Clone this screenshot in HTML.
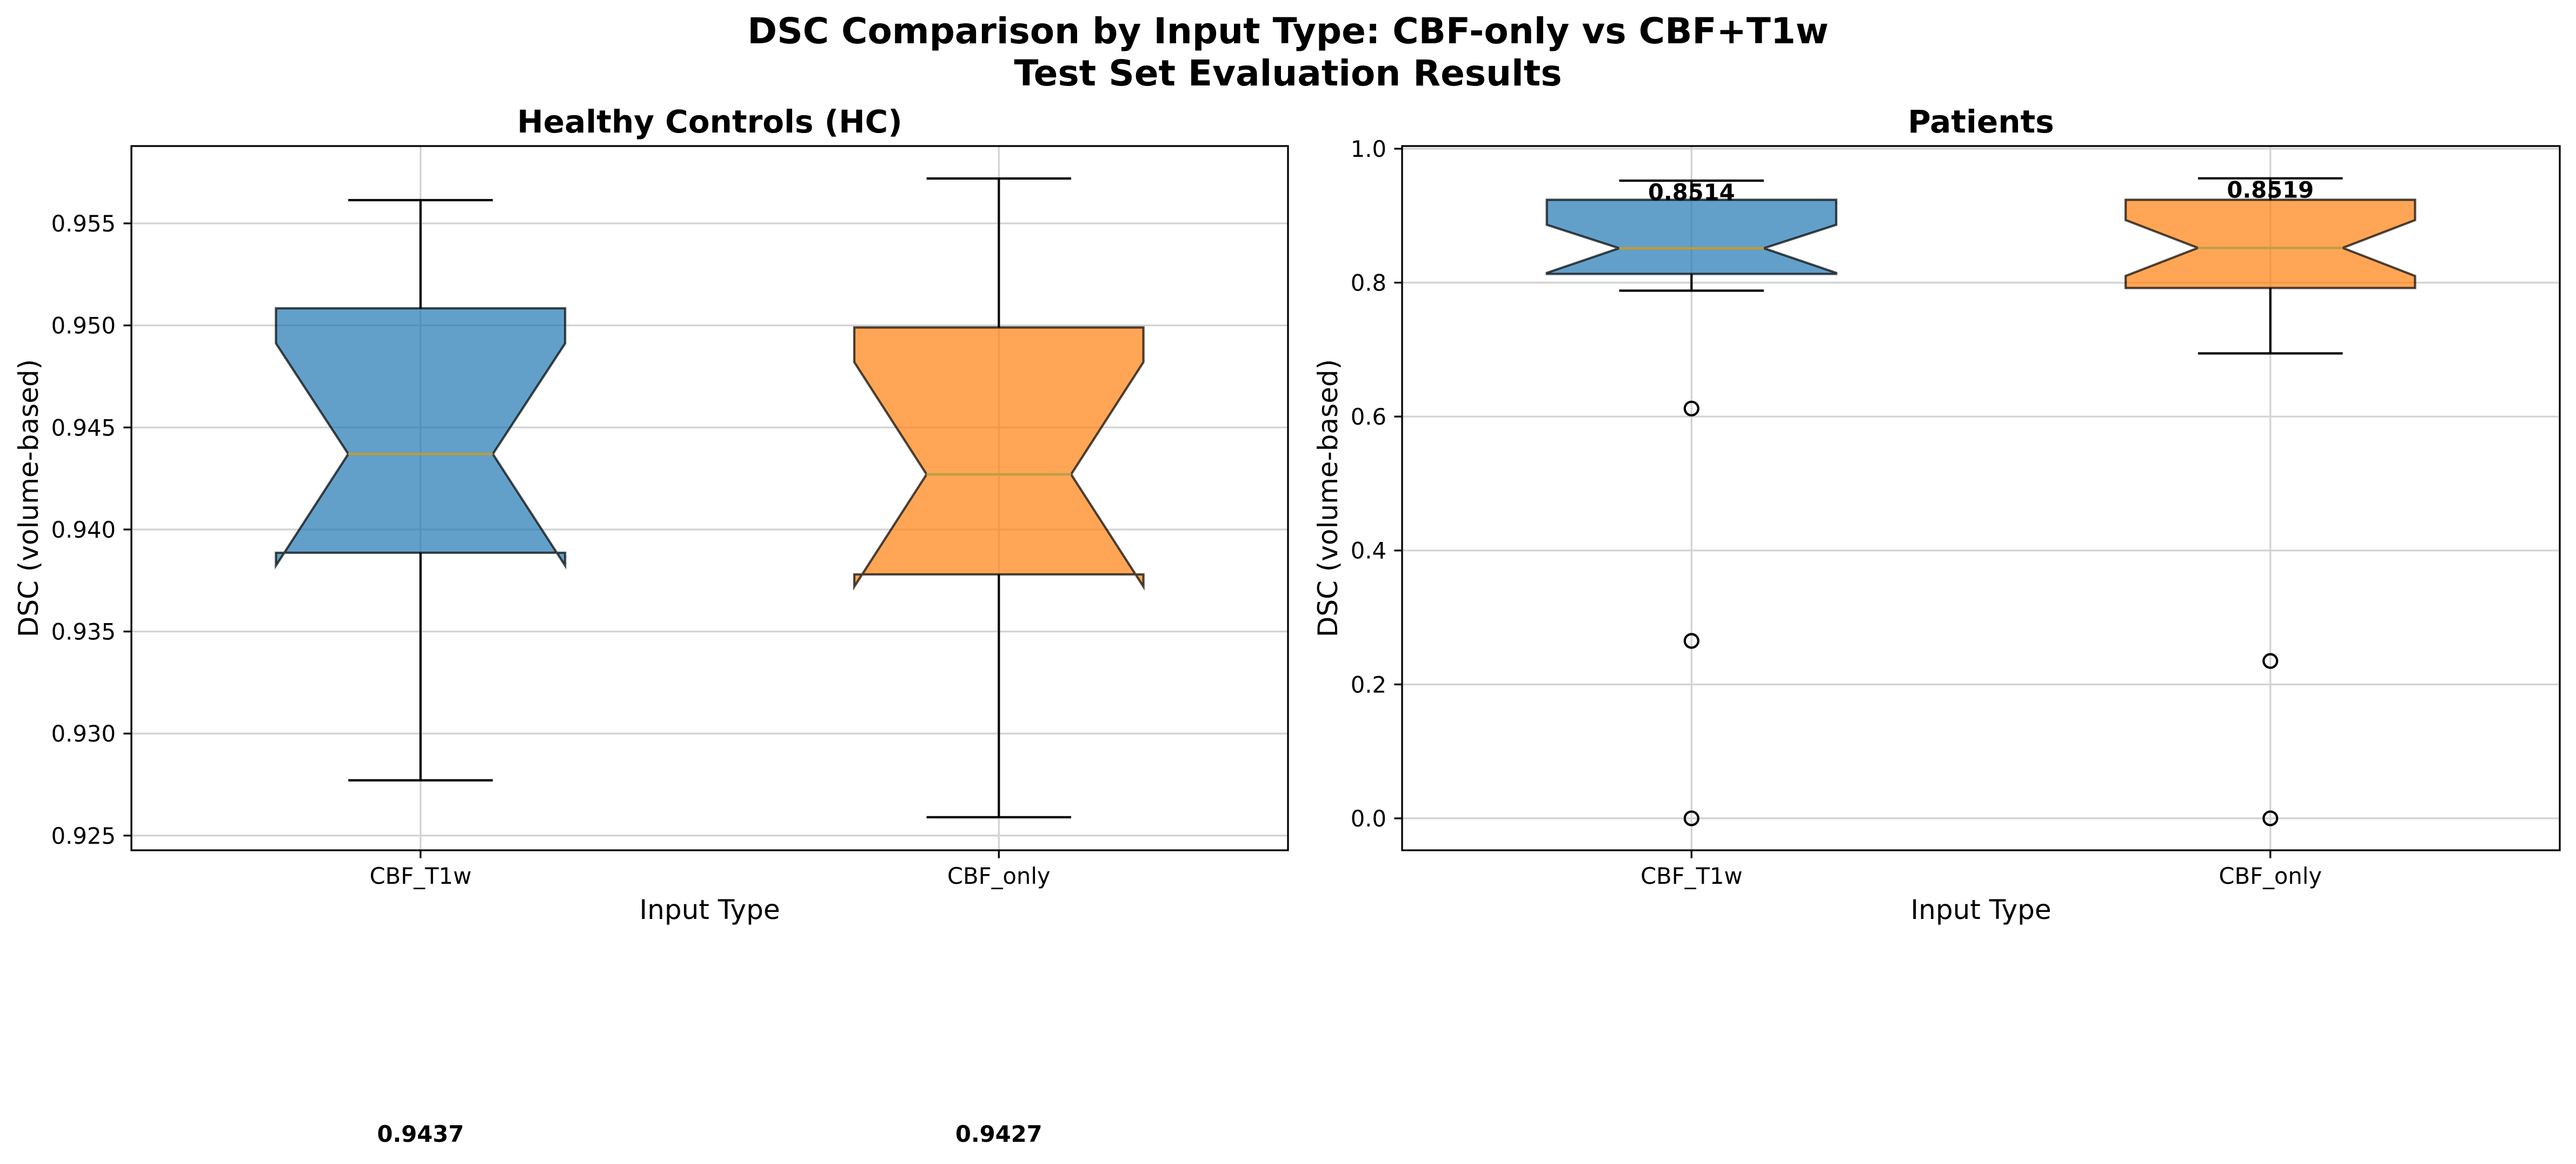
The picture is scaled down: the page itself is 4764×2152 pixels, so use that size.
<!DOCTYPE html>
<html><head><meta charset="utf-8">
<style>html,body{margin:0;padding:0;background:#fff}svg{display:block}</style>
</head><body>
<svg id="fig" width="4764" height="2152" viewBox="0 0 4764 2152" xmlns="http://www.w3.org/2000/svg" font-family="'DejaVu Sans','Liberation Sans',sans-serif">
<rect width="4764" height="2152" fill="#fff"/>
<text x="2382" y="80" font-size="66" font-weight="bold" text-anchor="middle">DSC Comparison by Input Type: CBF-only vs CBF+T1w</text>
<text x="2382" y="158" font-size="66" font-weight="bold" text-anchor="middle">Test Set Evaluation Results</text>
<g id="plots"></g>
</svg>
<script>
const categories = ["CBF_T1w", "CBF_only"];
// Healthy controls: [whiskerLow, Q1, notchLow, median, notchHigh, Q3, whiskerHigh]
const hcStats = [
  [0.92771, 0.93886, 0.93823, 0.9437, 0.94912, 0.95084, 0.95614],
  [0.9259, 0.9378, 0.9372, 0.9427, 0.9482, 0.9499, 0.9572]
];
const hcMedianLabels = ["0.9437", "0.9427"];
const hcTicks = [0.925, 0.930, 0.935, 0.940, 0.945, 0.950, 0.955];
const hcTickLabels = ["0.925", "0.930", "0.935", "0.940", "0.945", "0.950", "0.955"];
const hcOutliers = [[], []];
// Patients
const ptStats = [
  [0.788, 0.813, 0.8146, 0.8514, 0.8864, 0.9237, 0.9523],
  [0.6943, 0.792, 0.810, 0.8519, 0.8934, 0.9237, 0.9558]
];
const ptMedianLabels = ["0.8514", "0.8519"];
const ptTicks = [0.0, 0.2, 0.4, 0.6, 0.8, 1.0];
const ptTickLabels = ["0.0", "0.2", "0.4", "0.6", "0.8", "1.0"];
const ptOutliers = [[0.612, 0.265, 0.0], [0.235, 0.0]];

const NS = "http://www.w3.org/2000/svg";
const root = document.getElementById("plots");
const fills = ["rgba(31,119,180,0.7)", "rgba(255,127,14,0.7)"];
const medColors = ["#c89a2a", "#b9a045"];
function mk(tag, attrs, parent) {
  const e = document.createElementNS(NS, tag);
  for (const k in attrs) e.setAttribute(k, attrs[k]);
  (parent || root).appendChild(e);
  return e;
}
function drawPanel(cfg) {
  const g = mk("g", {});
  
  
  const {x0, x1, y0, y1, ymin, ymax} = cfg;
  const sy = v => y1 - (v - ymin) / (ymax - ymin) * (y1 - y0);
  const sx = i => x0 + (i + 1 - 0.5) / 2 * (x1 - x0);
  cfg.ticks.forEach((t, i) => {
    const gl = mk("line", {x1: x0, x2: x1, y1: sy(t), y2: sy(t), stroke: "#d3d3d3", "stroke-width": 3.3}, g);
    
    
    const tk = mk("line", {x1: x0 - 14.6, x2: x0, y1: sy(t), y2: sy(t), stroke: "#000", "stroke-width": 3.3}, g);
    
    
    const tl = mk("text", {x: x0 - 29, y: sy(t) + 15, "font-size": 41.7, "text-anchor": "end"}, g);
    tl.textContent = cfg.tickLabels[i];
    
    
  });
  categories.forEach((c, i) => {
    const cx = sx(i);
    const vg = mk("line", {x1: cx, x2: cx, y1: y0, y2: y1, stroke: "#d3d3d3", "stroke-width": 3.3}, g);
    
    
    const tk = mk("line", {x1: cx, x2: cx, y1: y1, y2: y1 + 14.6, stroke: "#000", "stroke-width": 3.3}, g);
    
    
    const tl = mk("text", {x: cx, y: y1 + 62, "font-size": 41.7, "text-anchor": "middle"}, g);
    tl.textContent = c;
    
    
  });
  const bw = 0.25 * (x1 - x0);
  cfg.stats.forEach((s, i) => {
    const cx = sx(i), hw = bw / 2, nw = bw / 4, cw = bw / 4;
    const [wl, q1, nl, med, nh, q3, wh] = s;
    const w1 = mk("line", {x1: cx, x2: cx, y1: sy(q1), y2: sy(wl), stroke: "#000", "stroke-width": 4.2}, g);
    
    
    const w2 = mk("line", {x1: cx, x2: cx, y1: sy(q3), y2: sy(wh), stroke: "#000", "stroke-width": 4.2}, g);
    
    
    const c1 = mk("line", {x1: cx - cw, x2: cx + cw, y1: sy(wl), y2: sy(wl), stroke: "#000", "stroke-width": 4.2}, g);
    
    
    const c2 = mk("line", {x1: cx - cw, x2: cx + cw, y1: sy(wh), y2: sy(wh), stroke: "#000", "stroke-width": 4.2}, g);
    
    
    const pts = [
      [cx - hw, sy(q1)], [cx - hw, sy(nl)], [cx - nw, sy(med)], [cx - hw, sy(nh)], [cx - hw, sy(q3)],
      [cx + hw, sy(q3)], [cx + hw, sy(nh)], [cx + nw, sy(med)], [cx + hw, sy(nl)], [cx + hw, sy(q1)]
    ].map(p => p.join(",")).join(" ");
    const box = mk("polygon", {points: pts, fill: fills[i], stroke: "rgba(0,0,0,0.7)", "stroke-width": 4.2}, g);
    
    
    const ml = mk("line", {x1: cx - nw, x2: cx + nw, y1: sy(med), y2: sy(med), stroke: medColors[i], "stroke-width": 4.2}, g);
    
    
    cfg.outliers[i].forEach(v => {
      const o = mk("circle", {cx: cx, cy: sy(v), r: 12.5, fill: "none", stroke: "#000", "stroke-width": 4.2}, g);
      
      
    });
    const lab = mk("text", {x: cx, y: cfg.labelY(sy, s), "font-size": 41.7, "font-weight": "bold", "text-anchor": "middle"}, g);
    lab.textContent = cfg.medianLabels[i];
    
    
  });
  const fr = mk("rect", {x: x0, y: y0, width: x1 - x0, height: y1 - y0, fill: "none", stroke: "#000", "stroke-width": 3.3}, g);
  
  
  const t = mk("text", {x: (x0 + x1) / 2, y: y0 - 25, "font-size": 58, "font-weight": "bold", "text-anchor": "middle"}, g);
  t.textContent = cfg.title;
  
  
  const xl = mk("text", {x: (x0 + x1) / 2, y: y1 + 127, "font-size": 50, "text-anchor": "middle"}, g);
  xl.textContent = "Input Type";
  
  
  const yl = mk("text", {x: 0, y: 0, "font-size": 50, "text-anchor": "middle", transform: `translate(${cfg.ylabX},${(y0 + y1) / 2}) rotate(-90)`}, g);
  yl.textContent = "DSC (volume-based)";
  
  
}
drawPanel({name: "healthy-controls-panel", title: "Healthy Controls (HC)", x0: 243, x1: 2382, y0: 270, y1: 1572,
  ymin: 0.92428, ymax: 0.95879, ticks: hcTicks, tickLabels: hcTickLabels, stats: hcStats, outliers: hcOutliers,
  medianLabels: hcMedianLabels, labelY: () => 2111, ylabX: 70});
drawPanel({name: "patients-panel", title: "Patients", x0: 2593, x1: 4734, y0: 270, y1: 1572,
  ymin: -0.0477, ymax: 1.004, ticks: ptTicks, tickLabels: ptTickLabels, stats: ptStats, outliers: ptOutliers,
  medianLabels: ptMedianLabels, labelY: (sy, s) => sy(s[6]) + 36, ylabX: 2473});
</script>
</body></html>
